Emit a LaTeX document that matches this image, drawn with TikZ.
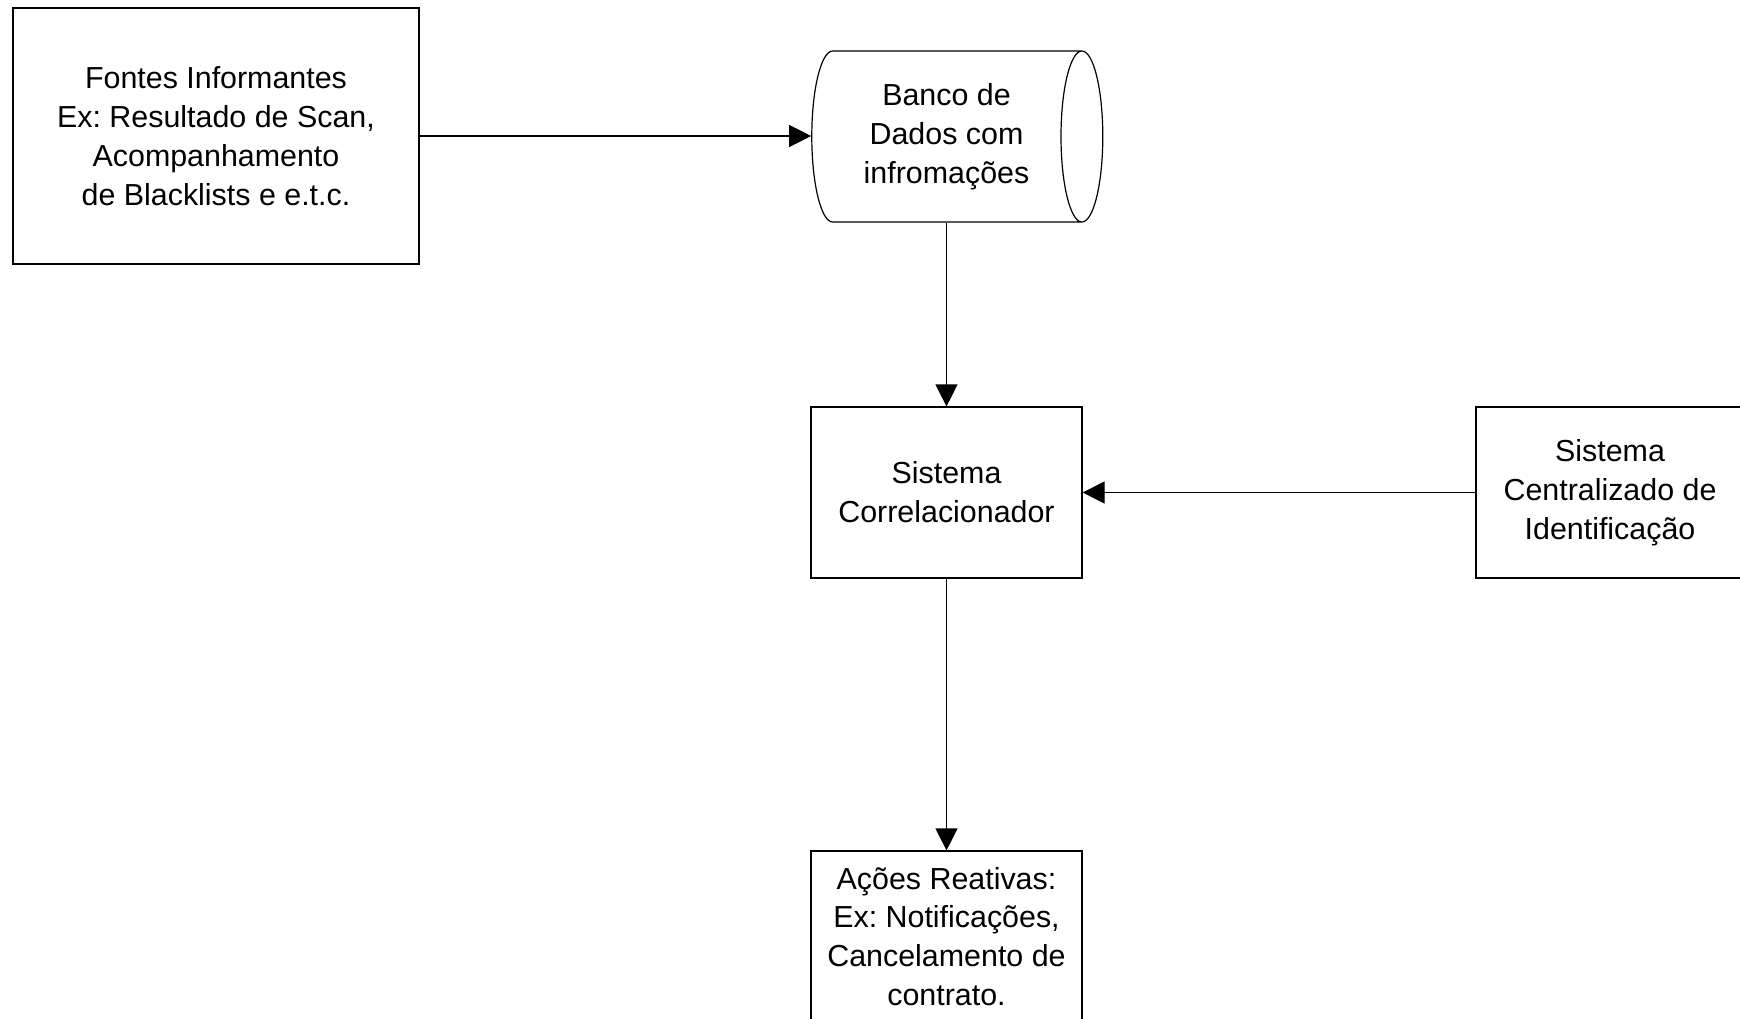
\documentclass[tikz,border=0pt]{standalone}
\usepackage{fontspec}
\setmainfont{Liberation Sans}
\usetikzlibrary{shapes,arrows.meta}
\tikzset{
  block/.style    = {draw, rectangle, align=center, minimum height = 85.5pt, minimum width = 135.5pt},
  base/.style     = {draw, cylinder, shape aspect=0.35, align=center, minimum height = 145.5pt, minimum width = 85.5pt}
}

\begin{document}
\frenchspacing
\begin{tikzpicture}[x=0.5pt, y=-0.5pt, auto, line width=0.6pt,
  >={Triangle[length=11pt, width=11pt]},
  font=\fontsize{15.2}{19.4}\selectfont]

\useasboundingbox (0,0) rectangle (1740,1018);

% Sources
\draw node [block, name=fontes, minimum width=203pt, minimum height=128pt] at (216,136)
  {Fontes Informantes\\Ex: Resultado de Scan,\\Acompanhamento\\de Blacklists e e.t.c.};

% Correlation
\draw node [block, right of=fontes, yshift=-178.25pt, node distance=365.25pt] (correl)
  {Sistema\\Correlacionador};
\draw node [base, above of=correl, xshift=-2pt, node distance=178pt] (banco)
  {\hspace*{4pt}Banco de\\\hspace*{4pt}Dados com\\\hspace*{4pt}infromações};
\draw node [block, right of=correl, minimum width=134pt, node distance=331.75pt] (central)
  {Sistema\\Centralizado de\\Identificação};

% Actions
\draw node [block, below of=correl, node distance=222pt] (acoes)
  {Ações Reativas:\\Ex: Notificações,\\Cancelamento de\\contrato.};

% Connections
\draw[->](fontes) -- (fontes -| banco.west);
\draw[->](banco.south -| correl.north) -- (correl.north);
\draw[->](central) -- (correl);
\draw[->](correl) -- (acoes);

\end{tikzpicture}
\end{document}
